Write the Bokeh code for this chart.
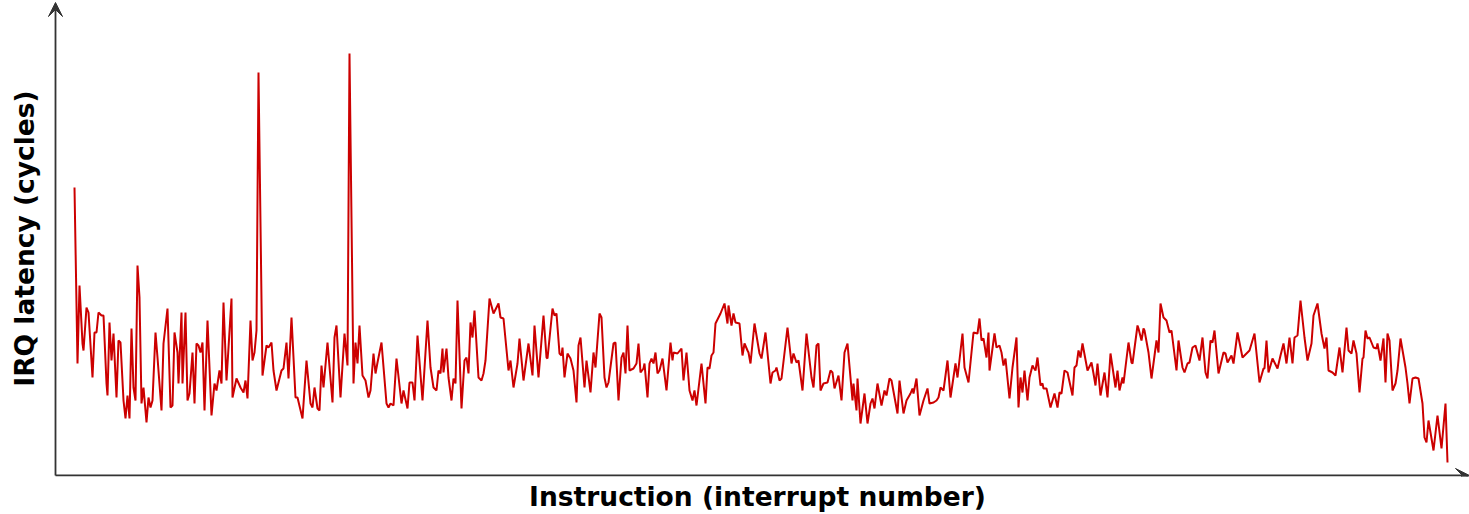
from bokeh.plotting import figure
from bokeh.models import Range1d, Arrow, VeeHead, FixedTicker
from bokeh.embed import file_html
from bokeh.resources import INLINE

# interrupt number (x) and IRQ latency in cycles (y)
interrupt = [0,3,5,8,9,12,14,18,20,22,24,27,29,32,33,35,37,39,42,44,46,49,51,53,55,57,59,61,63,65,67,69,72,74,76,78,81,83,87,89,93,96,98,100,103,104,107,108,111,113,115,118,120,122,124,126,128,130,133,135,137,140,142,145,147,149,152,157,158,162,166,169,171,173,176,178,180,182,184,188,192,194,197,199,202,204,207,209,212,214,217,221,223,228,232,236,238,240,243,245,247,249,253,258,260,262,266,270,273,275,279,281,283,285,288,291,294,296,299,301,303,307,312,314,316,319,322,327,329,333,335,338,340,343,348,353,356,359,362,364,366,368,369,372,374,377,379,381,383,387,390,392,394,396,398,400,404,407,409,411,415,419,424,426,429,434,436,439,443,445,449,454,458,460,464,469,472,473,478,480,482,485,487,488,490,493,496,499,502,504,506,510,512,516,519,521,525,527,530,532,534,539,541,544,547,549,551,553,555,559,562,564,566,569,570,573,575,577,579,581,583,585,588,592,596,598,599,603,607,609,612,615,618,620,622,627,631,633,635,637,639,641,646,650,653,654,657,659,661,665,668,670,673,674,676,680,685,687,691,696,698,701,702,705,707,713,717,719,722,724,728,732,737,739,742,744,746,749,753,756,758,760,764,767,770,773,778,779,782,783,786,790,793,796,798,800,803,807,810,812,815,817,823,825,829,832,836,838,839,842,845,849,853,855,859,862,864,866,869,873,876,881,883,888,890,894,899,903,905,907,909,912,914,915,920,922,925,927,929,931,935,938,942,944,946,948,950,953,955,958,959,961,963,966,968,969,972,976,980,983,985,987,990,993,998,1000,1002,1004,1006,1008,1013,1017,1019,1021,1023,1026,1030,1033,1036,1041,1043,1045,1048,1049,1054,1057,1058,1063,1064,1067,1069,1070,1074,1077,1082,1084,1086,1089,1092,1095,1097,1102,1104,1108,1110,1113,1115,1118,1121,1125,1128,1131,1133,1136,1138,1140,1144,1149,1151,1153,1157,1159,1163,1168,1173,1175,1180,1185,1189,1190,1192,1194,1198,1200,1203,1206,1209,1212,1215,1218,1220,1223,1226,1230,1233,1237,1239,1243,1247,1250,1252,1254,1258,1261,1265,1268,1272,1274,1277,1279,1282,1285,1288,1289,1291,1293,1295,1299,1302,1303,1306,1309,1311,1313,1315,1318,1321,1323,1326,1331,1333,1335,1338,1341,1344,1348,1350,1352,1354,1359,1363,1367,1371,1373]

latency = [288,112,190,132,125,168,163,98,143,143,163,160,160,92,80,153,115,142,78,135,133,75,57,80,57,147,88,75,210,178,72,88,53,78,68,75,143,118,65,132,167,68,70,143,123,92,163,92,163,75,82,123,72,132,130,123,133,65,155,108,60,92,85,105,92,173,95,177,78,97,88,83,95,77,155,115,123,145,403,100,130,128,133,105,85,93,105,107,133,97,158,78,78,57,115,72,68,88,67,65,110,88,133,73,138,150,78,142,110,422,92,133,112,150,100,95,78,85,122,102,113,133,72,68,72,70,117,72,85,67,93,93,75,140,75,155,108,88,85,105,102,127,103,127,98,75,97,92,175,67,115,118,102,153,138,165,98,95,102,115,177,162,172,158,157,105,115,88,112,137,95,132,100,150,98,160,118,117,167,160,162,122,120,128,98,122,117,105,73,130,138,88,115,83,123,108,162,158,98,88,93,132,133,75,118,123,102,150,105,107,112,132,103,107,112,78,112,117,112,123,102,105,117,85,133,115,123,122,127,95,123,85,75,85,70,112,72,108,107,120,123,152,162,172,152,170,150,162,153,152,120,132,125,123,112,152,122,117,143,92,103,105,108,95,97,148,112,122,113,115,85,142,98,88,130,132,85,92,93,105,103,87,100,75,123,132,75,92,65,97,52,82,52,72,77,67,92,70,85,80,97,95,62,95,62,75,82,87,82,97,60,75,87,72,73,75,78,88,85,115,78,112,98,142,108,93,143,142,157,135,137,118,143,105,142,128,130,123,110,117,77,108,138,68,98,83,105,75,98,110,108,105,118,90,92,87,87,68,82,68,83,82,105,103,80,108,110,125,118,132,105,113,102,90,112,80,103,78,122,88,105,85,98,92,133,113,112,150,147,135,147,145,123,97,135,123,172,158,155,143,145,105,135,108,103,112,113,128,130,115,138,103,97,135,133,145,102,123,122,113,120,112,143,118,123,125,142,93,107,107,135,103,117,113,107,120,132,112,138,112,138,140,175,138,115,132,160,172,142,127,138,105,103,100,128,103,148,125,122,135,122,83,117,118,145,137,138,128,127,132,115,137,93,142,135,85,92,105,137,108,92,72,97,98,97,72,38,33,55,25,60,27,72,13]

x_label = "Instruction (interrupt number)"
y_label = "IRQ latency (cycles)"

axis_color = "#333333"
line_color = "#cc0000"

p = figure(width=1469, height=514, output_backend="svg", toolbar_location=None,
           x_range=Range1d(-29, 1395), y_range=Range1d(-1, 475),
           min_border_left=45, min_border_right=0, min_border_top=0, min_border_bottom=38)

p.line(interrupt, latency, line_color=line_color, line_width=2)

# axes drawn as arrows from the origin of the data
x0 = -19
y0 = 0
p.add_layout(Arrow(end=VeeHead(size=14, fill_color=axis_color, line_color=axis_color),
                   x_start=x0, y_start=y0, x_end=p.x_range.end, y_end=y0,
                   line_color=axis_color, line_width=1.8))
p.add_layout(Arrow(end=VeeHead(size=14, fill_color=axis_color, line_color=axis_color),
                   x_start=x0, y_start=y0, x_end=x0, y_end=473,
                   line_color=axis_color, line_width=1.8))

for ax in (p.xaxis, p.yaxis):
    ax.ticker = FixedTicker(ticks=[])
    ax.axis_line_color = None
    ax.major_tick_line_color = None
    ax.minor_tick_line_color = None
    ax.major_tick_out = 0
    ax.major_tick_in = 0
    ax.major_label_text_font_size = "0px"
    ax.axis_label_text_font = "DejaVu Sans"
    ax.axis_label_text_font_style = "bold"
    ax.axis_label_text_font_size = "26.5px"
    ax.axis_label_text_color = "black"

p.xaxis.axis_label = x_label
p.yaxis.axis_label = y_label
p.xaxis.axis_label_standoff = 4
p.yaxis.axis_label_standoff = 6

p.xgrid.visible = False
p.ygrid.visible = False
p.outline_line_color = None

open("out.html", "w").write(file_html(p, INLINE))
